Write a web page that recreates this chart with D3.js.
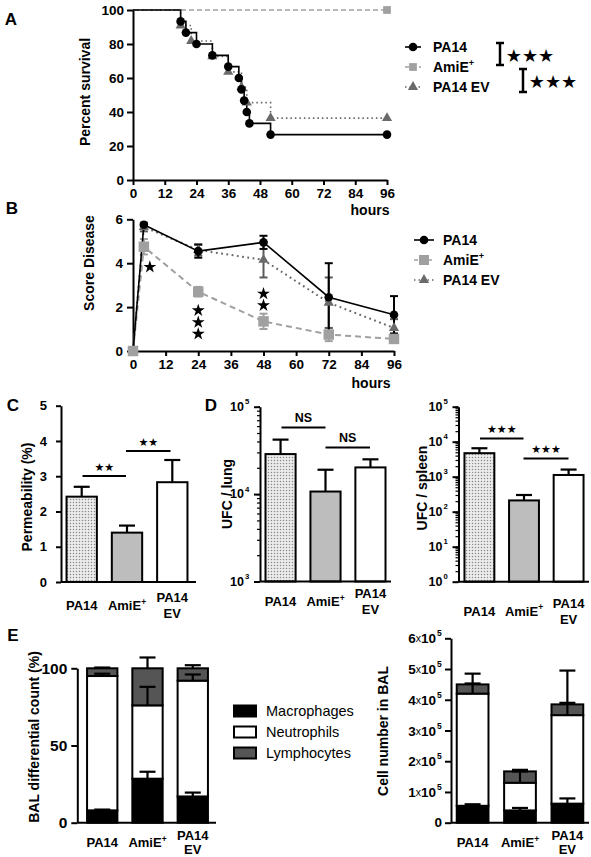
<!DOCTYPE html>
<html><head><meta charset="utf-8">
<script src="https://cdn.jsdelivr.net/npm/d3@7"></script>
<style>body{margin:0;background:#fff} svg text{font-family:"Liberation Sans",Arial,sans-serif}</style>
</head><body><svg id="c" width="591" height="857"></svg>
<script>
// ---------------- DATA ----------------
const hourTicks = [0,12,24,36,48,60,72,84,96];
const groups = ["PA14","AmiE+","PA14 EV"];
// Panel A: Kaplan-Meier survival [hour, percent]
const survPA14 = [[0,100],[18,93.3],[20,86.7],[24,80],[30,73.3],[36,66.7],[40,60],[41,53.3],[42,46.7],[43,40],[44,33.3],[52,26.7],[96,26.7]];
const survAmiE = [[0,100],[96,100]];
const survEV   = [[0,100],[18,90.9],[22,81.8],[30,72.7],[36,63.6],[41,54.5],[43,45.5],[52,36.4],[96,36.4]];
const survTicks = [0,20,40,60,80,100];
// Panel B: disease score
const scoreHours = [0,4,24,48,72,96];
const scorePA14 = [0,5.75,4.55,4.95,2.45,1.65];
const scorePA14Sem = [0,0.05,0.3,0.3,1.55,0.85];
const scoreAmiE = [0,4.75,2.7,1.35,0.75,0.55];
const scoreAmiESem = [0,0.35,0.22,0.35,0.3,0.15];
const scoreEV = [0,5.65,4.6,4.15,2.2,1.05];
const scoreEVSem = [0,0.2,0.25,0.8,1.15,0.4];
const scoreTicks = [0,2,4,6];
// significance stars: [hour, value]
const scoreStars = [[6.2,3.85],[24,1.87],[24,1.33],[24,0.8],[48,2.63],[48,2.1]];
// Panel C: permeability
const permMean = [2.42,1.4,2.83];
const permErr = [0.28,0.2,0.63];
const permTicks = [0,1,2,3,4,5];
// Panel D: CFU
const lungMean = [2.87e4,1.07e4,2.02e4];
const lungErrTop = [4.2e4,1.9e4,2.5e4];
const spleenMean = [4700,210,1120];
const spleenErrTop = [6500,300,1600];
// Panel E: BAL differential (%)
const cellTypes = ["Macrophages","Neutrophils","Lymphocytes"];
const balPctMacro = [8,28.5,17],  balPctMacroErr = [0.5,4.5,2.5];
const balPctNeut  = [87,47.5,75], balPctNeutErr  = [1.5,12,4];
const balPctLymph = [5,24,8],     balPctLymphErr = [0.5,7,2];
const balPctTicks = [0,50,100];
// Panel E: cell number (x1e5)
const balNumMacro = [0.55,0.4,0.62], balNumMacroErr = [0.05,0.08,0.17];
const balNumNeut  = [3.65,0.9,2.88], balNumNeutErr  = [0.33,0.37,0.4];
const balNumLymph = [0.3,0.37,0.35], balNumLymphErr = [0.35,0.05,1.1];
const balNumTicks = [0,1,2,3,4,5,6];

// ---------------- HELPERS ----------------
const svg = d3.select('#c');
const FONT = '"Liberation Sans", Arial, sans-serif';
const STARF = '"DejaVu Sans", sans-serif';
const defs = svg.append('defs');
const pat = defs.append('pattern').attr('id','dots').attr('patternUnits','userSpaceOnUse').attr('width',3).attr('height',3);
pat.append('rect').attr('width',3).attr('height',3).attr('fill','#ececec');
pat.append('circle').attr('cx',1.5).attr('cy',1.5).attr('r',0.75).attr('fill','#8a8a8a');
const barFills = ['url(#dots)','#bdbdbd','#ffffff'];
const CAT = 13;

function txt(x,y,s,o={}){
  const t = svg.append('text').attr('x',x).attr('y',y).text(s)
    .style('font-family',o.font||FONT).style('font-size',(o.size||13)+'px')
    .style('font-weight',o.weight||'bold').attr('text-anchor',o.anchor||'middle')
    .attr('fill',o.fill||'#000').attr('dominant-baseline','central');
  if(o.rot) t.attr('transform',`rotate(${o.rot},${x},${y})`);
  return t;
}
function catLabel(x,y,name,size,gap){
  gap = gap||8;
  if(name==='AmiE+'){
    const t = txt(x,y,'AmiE',{size});
    t.append('tspan').attr('dy','-0.45em').style('font-size','0.65em').text('+');
  } else if(name==='PA14 EV'){
    txt(x,y-gap,'PA14',{size}); txt(x,y+gap,'EV',{size});
  } else txt(x,y,name,{size});
}
function styleAxis(g,fs){
  g.attr('font-family',null).attr('font-size',null);
  g.select('.domain').attr('stroke','#000').attr('stroke-width',2);
  g.selectAll('.tick line').attr('stroke','#000').attr('stroke-width',2);
  g.selectAll('.tick text').attr('fill','#000').style('font-family',FONT).style('font-weight','bold').style('font-size',fs+'px');
}
function stars(x,y,n,size){
  txt(x,y,'★'.repeat(n),{size,font:STARF,weight:'normal'});
}
function sym(type,size){ return d3.symbol().type(type).size(size)(); }
const fmtInt = d3.format('d');

// ---------------- PANEL A ----------------
const xA = d3.scaleLinear().domain([0,96]).range([133,387]);
const yA = d3.scaleLinear().domain([0,100]).range([180,10]);
styleAxis(svg.append('g').attr('transform','translate(0,180)').call(d3.axisBottom(xA).tickValues(hourTicks).tickFormat(fmtInt).tickSize(5).tickSizeOuter(0).tickPadding(3)),13.5);
styleAxis(svg.append('g').attr('transform','translate(133,0)').call(d3.axisLeft(yA).tickValues(survTicks).tickFormat(fmtInt).tickSize(6).tickSizeOuter(0).tickPadding(3)),13.5);
const stepLine = d3.line().x(d=>xA(d[0])).y(d=>yA(d[1])).curve(d3.curveStepAfter);
svg.append('path').attr('d',stepLine(survAmiE)).attr('fill','none').attr('stroke','#a0a0a0').attr('stroke-width',1.6).attr('stroke-dasharray','5,3');
svg.append('path').attr('d',stepLine(survEV)).attr('fill','none').attr('stroke','#666').attr('stroke-width',1.6).attr('stroke-dasharray','1.5,3');
svg.append('path').attr('d',stepLine(survPA14)).attr('fill','none').attr('stroke','#000').attr('stroke-width',1.6);
svg.append('g').selectAll('path').data(survAmiE.slice(1)).join('path').attr('d',sym(d3.symbolSquare,60))
  .attr('transform',d=>`translate(${xA(d[0])},${yA(d[1])})`).attr('fill','#a0a0a0');
svg.append('g').selectAll('path').data(survEV.slice(1)).join('path').attr('d',sym(d3.symbolTriangle,45))
  .attr('transform',d=>`translate(${xA(d[0])},${yA(d[1])})`).attr('fill','#6a6a6a');
svg.append('g').selectAll('circle').data(survPA14.slice(1)).join('circle').attr('cx',d=>xA(d[0])).attr('cy',d=>yA(d[1])).attr('r',4.3).attr('fill','#000');
txt(370,210,'hours',{size:14});
txt(85,92,'Percent survival',{size:14,rot:-90});
txt(11,19,'A',{size:17});
// legend A
function legendItem(x1,x2,y,i,big){
  const styles=[{s:'#000',d:null,w:1.6},{s:'#a0a0a0',d:'4,3',w:1.6},{s:'#666',d:'1.5,3',w:1.6}];
  svg.append('line').attr('x1',x1).attr('x2',x2).attr('y1',y).attr('y2',y).attr('stroke',styles[i].s).attr('stroke-width',styles[i].w).attr('stroke-dasharray',styles[i].d);
  const cx=(x1+x2)/2;
  if(i===0) svg.append('circle').attr('cx',cx).attr('cy',y).attr('r',4.3).attr('fill','#000');
  if(i===1) svg.append('path').attr('d',sym(d3.symbolSquare,big?100:60)).attr('transform',`translate(${cx},${y})`).attr('fill','#a0a0a0');
  if(i===2) svg.append('path').attr('d',sym(d3.symbolTriangle,45)).attr('transform',`translate(${cx},${y})`).attr('fill','#6a6a6a');
}
groups.forEach((g,i)=>{
  const y=47+i*20; legendItem(405,421,y,i,false);
  if(g==='AmiE+'){ const t=txt(433,y,'AmiE',{size:14,anchor:'start'}); t.append('tspan').attr('dy','-0.45em').style('font-size','0.65em').text('+'); }
  else txt(433,y,g,{size:14,anchor:'start'});
});
function bracket(x,y1,y2){
  const g=svg.append('g').attr('stroke','#000').attr('stroke-width',2.5);
  g.append('line').attr('x1',x).attr('x2',x).attr('y1',y1).attr('y2',y2);
  g.append('line').attr('x1',x-4).attr('x2',x+4).attr('y1',y1).attr('y2',y1);
  g.append('line').attr('x1',x-4).attr('x2',x+4).attr('y1',y2).attr('y2',y2);
}
bracket(500,43,65); stars(530,55,3,18);
bracket(523,69,92); stars(553,81,3,18);

// ---------------- PANEL B ----------------
const xB = d3.scaleLinear().domain([0,96]).range([133,394]);
const yB = d3.scaleLinear().domain([0,6]).range([351,219.3]);
styleAxis(svg.append('g').attr('transform','translate(0,351)').call(d3.axisBottom(xB).tickValues(hourTicks).tickFormat(fmtInt).tickSize(5).tickSizeOuter(0).tickPadding(3)),13.5);
styleAxis(svg.append('g').attr('transform','translate(133,0)').call(d3.axisLeft(yB).tickValues(scoreTicks).tickFormat(fmtInt).tickSize(6).tickSizeOuter(0).tickPadding(4)),13.5);
const seriesB = [
  {m:scoreAmiE,e:scoreAmiESem,c:'#a0a0a0',dash:'6,4',w:2,ec:'#a0a0a0'},
  {m:scoreEV,e:scoreEVSem,c:'#666',dash:'1.8,3.5',w:2,ec:'#5a5a5a'},
  {m:scorePA14,e:scorePA14Sem,c:'#000',dash:null,w:1.6,ec:'#000'}];
const lineB = d3.line().x((d,i)=>xB(scoreHours[i])).y(d=>yB(d));
seriesB.forEach((s,k)=>{
  svg.append('path').attr('d',lineB(s.m)).attr('fill','none').attr('stroke',s.c).attr('stroke-width',s.w).attr('stroke-dasharray',s.dash);
  const g=svg.append('g').attr('stroke',s.ec).attr('stroke-width',2);
  s.m.forEach((v,i)=>{
    if(!s.e[i]) return;
    const x=xB(scoreHours[i]);
    g.append('line').attr('x1',x).attr('x2',x).attr('y1',yB(v-s.e[i])).attr('y2',yB(v+s.e[i]));
    [v-s.e[i],v+s.e[i]].forEach(w=>g.append('line').attr('x1',x-4).attr('x2',x+4).attr('y1',yB(w)).attr('y2',yB(w)));
  });
});
scoreAmiE.forEach((v,i)=>svg.append('path').attr('d',sym(d3.symbolSquare,110)).attr('transform',`translate(${xB(scoreHours[i])},${yB(v)})`).attr('fill','#a0a0a0'));
scoreEV.forEach((v,i)=>{ if(i>0) svg.append('path').attr('d',sym(d3.symbolTriangle,45)).attr('transform',`translate(${xB(scoreHours[i])},${yB(v)})`).attr('fill','#6a6a6a');});
scorePA14.forEach((v,i)=>{ if(i>0) svg.append('circle').attr('cx',xB(scoreHours[i])).attr('cy',yB(v)).attr('r',4.3).attr('fill','#000');});
svg.append('g').selectAll('path').data(scoreStars).join('path').attr('d',sym(d3.symbolStar,52))
  .attr('transform',d=>`translate(${xB(d[0])},${yB(d[1])+0.5})`).attr('fill','#000');
txt(371,383,'hours',{size:14});
txt(89,263,'Score Disease',{size:14,rot:-90});
txt(12,208,'B',{size:17});
groups.forEach((g,i)=>{
  const y=240+i*20; legendItem(414,434,y,i,true);
  if(g==='AmiE+'){ const t=txt(443,y,'AmiE',{size:14,anchor:'start'}); t.append('tspan').attr('dy','-0.45em').style('font-size','0.65em').text('+'); }
  else txt(443,y,g,{size:14,anchor:'start'});
});

// ---------------- BAR HELPERS ----------------
function barErr(x,yTop,yErr,cap){
  const g=svg.append('g').attr('stroke','#000').attr('stroke-width',2.2);
  g.append('line').attr('x1',x).attr('x2',x).attr('y1',yTop).attr('y2',yErr);
  g.append('line').attr('x1',x-cap/2).attr('x2',x+cap/2).attr('y1',yErr).attr('y2',yErr);
}
function sigLine(x1,x2,y,label,isStar,n){
  svg.append('line').attr('x1',x1).attr('x2',x2).attr('y1',y).attr('y2',y).attr('stroke','#000').attr('stroke-width',2);
  if(isStar) stars((x1+x2)/2,y-9,n,11); else txt((x1+x2)/2,y-10,label,{size:12.5});
}

// ---------------- PANEL C ----------------
const xC = d3.scaleBand().domain(groups).range([62,192]).paddingInner(0.33).paddingOuter(0.1);
const yC = d3.scaleLinear().domain([0,5]).range([582,405.7]);
permMean.forEach((v,i)=>{
  const x=xC(groups[i]);
  barErr(x+xC.bandwidth()/2,yC(v),yC(v+permErr[i]),16);
  svg.append('rect').attr('x',x).attr('y',yC(v)).attr('width',xC.bandwidth()).attr('height',yC(0)-yC(v)).attr('fill',barFills[i]).attr('stroke','#000').attr('stroke-width',2);
});
styleAxis(svg.append('g').attr('transform','translate(61,0)').call(d3.axisLeft(yC).tickValues(permTicks).tickFormat(fmtInt).tickSize(5).tickSizeOuter(0).tickPadding(9)),13);
svg.append('line').attr('x1',61).attr('x2',196).attr('y1',582).attr('y2',582).attr('stroke','#000').attr('stroke-width',2);
sigLine(82.5,126,476,'',true,2);
sigLine(126,170.5,451,'',true,2);
groups.forEach((g,i)=>catLabel(xC(g)+xC.bandwidth()/2,605.5,g,CAT));
txt(27,497,'Permeability (%)',{size:14,rot:-90});
txt(13,405,'C',{size:17});

// ---------------- PANEL D (log) ----------------
function logAxis(x0,y,minorSize,fs){
  const ax = d3.axisLeft(y).tickValues(y.ticks()).tickSize(minorSize).tickSizeOuter(0).tickFormat('');
  const g = svg.append('g').attr('transform',`translate(${x0},0)`).call(ax);
  styleAxis(g,fs);
  g.selectAll('.tick line').attr('stroke-width',1.2);
  const majors = y.ticks().filter(v=>Math.abs(Math.log10(v)-Math.round(Math.log10(v)))<1e-9);
  const gm = svg.append('g').attr('transform',`translate(${x0},0)`).call(d3.axisLeft(y).tickValues(majors).tickSize(6).tickSizeOuter(0).tickPadding(3).tickFormat(''));
  styleAxis(gm,fs); gm.select('.domain').remove();
  majors.forEach(v=>{
    txt(x0-16,y(v),'10',{size:fs,anchor:'end'});
    txt(x0-15,y(v)-5,String(Math.round(Math.log10(v))),{size:fs*0.62,anchor:'start'});
  });
}
const xL = d3.scaleBand().domain(groups).range([261,390]).paddingInner(0.33).paddingOuter(0.1);
const yL = d3.scaleLog().domain([1e3,1e5]).range([581.5,406.7]);
lungMean.forEach((v,i)=>{
  const x=xL(groups[i]);
  barErr(x+xL.bandwidth()/2,yL(v),yL(lungErrTop[i]),16);
  svg.append('rect').attr('x',x).attr('y',yL(v)).attr('width',xL.bandwidth()).attr('height',yL(1e3)-yL(v)).attr('fill',barFills[i]).attr('stroke','#000').attr('stroke-width',2);
});
logAxis(260,yL,3,12.5);
svg.append('line').attr('x1',260).attr('x2',391).attr('y1',581.5).attr('y2',581.5).attr('stroke','#000').attr('stroke-width',2);
sigLine(281.5,325.5,427.5,'NS',false);
sigLine(325.5,370,447.5,'NS',false);
groups.forEach((g,i)=>catLabel(xL(g)+xL.bandwidth()/2,601.5,g,CAT));
txt(227,494,'UFC / lung',{size:14,rot:-90});
txt(211,405,'D',{size:17});

const xS = d3.scaleBand().domain(groups).range([460,588]).paddingInner(0.33).paddingOuter(0.1);
const yS = d3.scaleLog().domain([1,1e5]).range([581.7,406.7]);
spleenMean.forEach((v,i)=>{
  const x=xS(groups[i]);
  barErr(x+xS.bandwidth()/2,yS(v),yS(spleenErrTop[i]),16);
  svg.append('rect').attr('x',x).attr('y',yS(v)).attr('width',xS.bandwidth()).attr('height',yS(1)-yS(v)).attr('fill',barFills[i]).attr('stroke','#000').attr('stroke-width',2);
});
logAxis(458.5,yS,3,12.5);
svg.append('line').attr('x1',458.5).attr('x2',589).attr('y1',581.7).attr('y2',581.7).attr('stroke','#000').attr('stroke-width',2);
sigLine(480,523.5,438.5,'',true,3);
sigLine(523.5,568.5,458.5,'',true,3);
groups.forEach((g,i)=>catLabel(xS(g)+xS.bandwidth()/2,611,g,CAT));
txt(422,488,'UFC / spleen',{size:14,rot:-90});

// ---------------- PANEL E ----------------
const segFills = ['#000','#fff','#555'];
function stacked(xs,y,vals,errs){
  const n=groups.length;
  for(let i=0;i<n;i++){
    let base=0; const x=xs(groups[i]), w=xs.bandwidth();
    const tops=[];
    vals.forEach((arr,k)=>{
      svg.append('rect').attr('x',x).attr('y',y(base+arr[i])).attr('width',w).attr('height',y(base)-y(base+arr[i]))
        .attr('fill',segFills[k]).attr('stroke','#000').attr('stroke-width',2);
      base+=arr[i]; tops.push(base);
    });
    vals.forEach((arr,k)=>barErr(x+w/2,y(tops[k]),y(tops[k]+errs[k][i]),16));
  }
}
const xE1 = d3.scaleBand().domain(groups).range([78,217]).paddingInner(0.33).paddingOuter(0.2);
const yE1 = d3.scaleLinear().domain([0,100]).range([822.7,668.3]);
stacked(xE1,yE1,[balPctMacro,balPctNeut,balPctLymph],[balPctMacroErr,balPctNeutErr,balPctLymphErr]);
styleAxis(svg.append('g').attr('transform','translate(77.3,0)').call(d3.axisLeft(yE1).tickValues(balPctTicks).tickFormat(fmtInt).tickSize(6).tickSizeOuter(0).tickPadding(4)),15.5);
svg.append('line').attr('x1',77.3).attr('x2',216).attr('y1',822.7).attr('y2',822.7).attr('stroke','#000').attr('stroke-width',2);
groups.forEach((g,i)=>catLabel(xE1(g)+xE1.bandwidth()/2,842.5,g,CAT,7));
txt(34,737,'BAL differential count (%)',{size:14,rot:-90});
txt(13,635,'E',{size:17});
// legend E
cellTypes.forEach((c,i)=>{
  const y=711+i*21;
  svg.append('rect').attr('x',234).attr('y',y-5.5).attr('width',22).attr('height',11).attr('fill',segFills[i]).attr('stroke','#000').attr('stroke-width',2);
  txt(266,y,c,{size:14.5,weight:'normal',anchor:'start'});
});

const xE2 = d3.scaleBand().domain(groups).range([452,588]).paddingInner(0.33).paddingOuter(0.1);
const yE2 = d3.scaleLinear().domain([0,6]).range([822.7,638.3]);
stacked(xE2,yE2,[balNumMacro,balNumNeut,balNumLymph],[balNumMacroErr,balNumNeutErr,balNumLymphErr]);
const gE2 = svg.append('g').attr('transform','translate(451,0)').call(d3.axisLeft(yE2).tickValues(balNumTicks).tickSize(6).tickSizeOuter(0).tickFormat(''));
styleAxis(gE2,13);
balNumTicks.forEach(v=>{
  const y=yE2(v);
  if(v===0){ txt(442,y,'0',{size:13.5,anchor:'end'}); return; }
  const t=txt(436,y,'',{size:13.5,anchor:'end'});
  t.append('tspan').text(String(v));
  t.append('tspan').style('font-weight','normal').style('font-size','10.5px').text('x');
  t.append('tspan').text('10');
  txt(437,y-5,'5',{size:8.5,anchor:'start'});
});
svg.append('line').attr('x1',451).attr('x2',589).attr('y1',822.7).attr('y2',822.7).attr('stroke','#000').attr('stroke-width',2);
groups.forEach((g,i)=>catLabel(xE2(g)+xE2.bandwidth()/2,842.5,g,CAT,7));
txt(383,731,'Cell number in BAL',{size:14,rot:-90});
</script></body></html>
